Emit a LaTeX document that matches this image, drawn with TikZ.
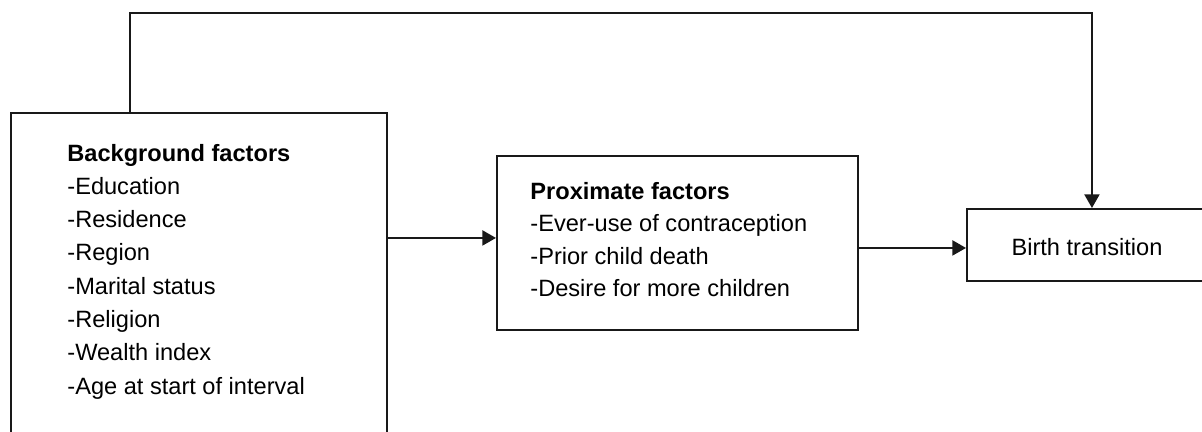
\documentclass[tikz,border=0pt]{standalone}
\usepackage{fontspec}
\setmainfont{Liberation Sans}
\usetikzlibrary{positioning,arrows.meta}

\begin{document}
\begin{tikzpicture}[x=0.5pt,y=-0.5pt,
	box/.style={draw=black!90,line width=0.95pt,rectangle,inner sep=0pt,anchor=north west},
	txt/.style={align=left,inner sep=0pt,anchor=north west,font=\fontsize{11.8}{16.65}\selectfont},
	arr/.style={draw=black!90,line width=0.95pt,-{Triangle[length=6.8pt,width=7.5pt]}}]
	\useasboundingbox (0,0) rectangle (1202,432);
	\clip (0,0) rectangle (1202,432);
	% Boxes (first and last run off the page)
	\node[box,minimum width=188pt,minimum height=170pt] (bg) at (10,112) {};
	\node[box,minimum width=180.5pt,minimum height=87pt] (pf) at (496,155) {};
	\node[box,minimum width=125pt,minimum height=36pt] (bt) at (966,208) {};
	% Texts
	\node[txt] (bgtext) at (67,143.5) {\textbf{Background factors}\\-Education\\-Residence\\-Region\\-Marital status\\-Religion\\-Wealth index\\-Age at start of interval};
	\node[txt,font=\fontsize{11.8}{16.25}\selectfont] (pftext) at (530,182) {\textbf{Proximate factors}\\-Ever-use of contraception\\-Prior child death\\-Desire for more children};
	\node[anchor=base,inner sep=0pt,font=\fontsize{11.8}{14}\selectfont] (bttext) at (1087,256) {Birth transition};
	% Connectors
	\coordinate (bgtop) at ([xshift=60pt]bg.north west);
	\coordinate (pfin) at ([yshift=2.5pt]pf.west);
	\coordinate (btin) at ([yshift=-1.5pt]bt.west);
	\draw[arr] (bg.east |- pfin) -- (pfin);
	\draw[arr] (pf.east |- btin) -- (btin);
	\draw[arr] (bgtop) -- ++(0pt,49.5pt) -| (bt.north);
\end{tikzpicture}
\end{document}
